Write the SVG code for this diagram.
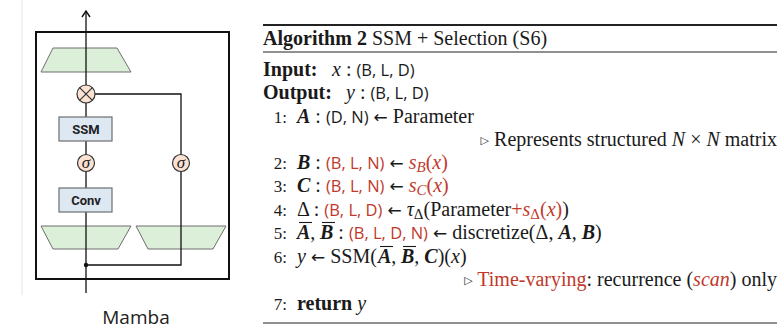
<svg xmlns="http://www.w3.org/2000/svg" width="782" height="329" viewBox="0 0 782 329">
<defs>
<style>
.ser{font-family:"Liberation Serif","DejaVu Serif",serif;font-size:20px;fill:#1a1a1a}
.sans{font-family:"Open Sans","Liberation Sans",sans-serif;font-size:16.5px}
.arw{font-family:"DejaVu Sans",sans-serif;font-size:17px}
.num{font-size:17px}
.sub{font-size:15px}
.red{fill:#c0392b}
.bi{font-weight:bold;font-style:italic}
.it{font-style:italic}
.b{font-weight:bold}
.ovl{stroke:#1a1a1a;stroke-width:1.1}
.trap{fill:#dcefd8;stroke:#6e6e6e;stroke-width:1}
.box{fill:#dde8f3;stroke:#6e6e6e;stroke-width:1.2}
.circ{fill:#fbe2d3;stroke:#333;stroke-width:1.2}
.wire{fill:none;stroke:#111;stroke-width:1.3}
.lbl{font-family:Roboto,"Liberation Sans",sans-serif;font-weight:bold;font-size:13px;fill:#222;text-anchor:middle}
.sig{font-family:"Liberation Serif",serif;font-style:italic;font-size:17px;fill:#222;text-anchor:middle}
.rule{stroke:#222}
</style>
<marker id="arr" markerWidth="12" markerHeight="12" refX="10" refY="6" orient="auto" markerUnits="userSpaceOnUse" viewBox="0 0 12 12">
<polyline points="4,2 10,6 4,10" fill="none" stroke="#111" stroke-width="1.4"/>
</marker>
</defs>
<rect width="782" height="329" fill="#fff"/>
<line x1="22" y1="0" x2="22" y2="295" stroke="#e4e4e4" stroke-width="1"/>

<!-- Mamba block -->
<g id="outer-box"><rect x="36" y="32" width="193" height="247" fill="none" stroke="#111" stroke-width="2"/></g>
<g id="proj-out"><polygon class="trap" points="53,48 117,48 131,72 41,72"/></g>
<g id="proj-in-left"><polygon class="trap" points="41,226 131,226 118,249 53,249"/></g>
<g id="proj-in-right"><polygon class="trap" points="136,226 226,226 213,249 148,249"/></g>

<g id="connectors">
<line class="wire" x1="86" y1="293" x2="86" y2="11" marker-end="url(#arr)"/>
<polyline class="wire" points="95,94 181,94 181,265 86,265"/>
<circle cx="86" cy="265" r="2.2" fill="#111"/>
</g>

<g id="multiply"><circle class="circ" cx="86" cy="94" r="9"/>
<line x1="79.6" y1="87.6" x2="92.4" y2="100.4" stroke="#333" stroke-width="1.2"/>
<line x1="92.4" y1="87.6" x2="79.6" y2="100.4" stroke="#333" stroke-width="1.2"/></g>
<g id="ssm"><rect class="box" x="59" y="117" width="53" height="24"/><text class="lbl" x="86" y="134">SSM</text></g>
<g id="sigma-left"><circle class="circ" cx="86" cy="163" r="8.5"/><text class="sig" x="86" y="167.5">σ</text></g>
<g id="sigma-right"><circle class="circ" cx="181" cy="163" r="8.5"/><text class="sig" x="181" y="167.5">σ</text></g>
<g id="conv"><rect class="box" x="59" y="188" width="53" height="24"/><text class="lbl" x="86" y="205">Conv</text></g>
<g id="caption"><text x="136" y="324" font-family="'Open Sans','Noto Sans',sans-serif" font-size="19" fill="#222" text-anchor="middle">Mamba</text></g>

<!-- Algorithm -->
<g id="algorithm">
<line class="rule" x1="263" y1="25" x2="777" y2="25" stroke-width="1.8"/>
<line class="rule" x1="263" y1="52" x2="777" y2="52" stroke-width="1"/>
<line class="rule" x1="263" y1="323" x2="777" y2="323" stroke-width="1.2"/>
<text class="ser" x="263" y="45" font-size="25"><tspan class="b">Algorithm 2</tspan> SSM + Selection (S6)</text>

<text class="ser" x="263" y="76"><tspan class="b">Input:</tspan><tspan x="332" class="it">x</tspan> : <tspan class="sans">(B, L, D)</tspan></text>
<text class="ser" x="263" y="99"><tspan class="b">Output:</tspan><tspan x="346" class="it">y</tspan> : <tspan class="sans">(B, L, D)</tspan></text>

<text class="ser num" x="287" y="123" text-anchor="end">1:</text>
<text class="ser" x="297" y="123"><tspan class="bi">A</tspan> : <tspan class="sans">(D, N)</tspan> <tspan class="arw">←</tspan> Parameter</text>
<text class="ser" x="777" y="146" text-anchor="end"><tspan font-size="11" dy="-2">▷</tspan><tspan dy="2"> Represents structured </tspan><tspan class="it">N</tspan> × <tspan class="it">N</tspan> matrix</text>

<text class="ser num" x="287" y="169" text-anchor="end">2:</text>
<text class="ser" x="297" y="169"><tspan class="bi">B</tspan> : <tspan class="sans red">(B, L, N)</tspan> <tspan class="arw">←</tspan> <tspan class="red it">s</tspan><tspan class="red it sub" dy="3">B</tspan><tspan class="red" dy="-3">(</tspan><tspan class="red it">x</tspan><tspan class="red">)</tspan></text>

<text class="ser num" x="287" y="192" text-anchor="end">3:</text>
<text class="ser" x="297" y="192"><tspan class="bi">C</tspan> : <tspan class="sans red">(B, L, N)</tspan> <tspan class="arw">←</tspan> <tspan class="red it">s</tspan><tspan class="red it sub" dy="3">C</tspan><tspan class="red" dy="-3">(</tspan><tspan class="red it">x</tspan><tspan class="red">)</tspan></text>

<text class="ser num" x="287" y="216" text-anchor="end">4:</text>
<text class="ser" x="297" y="216">Δ : <tspan class="sans red">(B, L, D)</tspan> <tspan class="arw">←</tspan> <tspan class="it">τ</tspan><tspan class="sub" dy="3">Δ</tspan><tspan dy="-3">(Parameter</tspan><tspan class="red">+</tspan><tspan class="red it">s</tspan><tspan class="red sub" dy="3">Δ</tspan><tspan class="red" dy="-3">(</tspan><tspan class="red it">x</tspan><tspan class="red">)</tspan>)</text>

<text class="ser num" x="287" y="239" text-anchor="end">5:</text>
<text class="ser" x="297" y="239"><tspan class="bi">A</tspan>, <tspan class="bi" x="320">B</tspan> : <tspan class="sans red">(B, L, D, N)</tspan> <tspan class="arw">←</tspan> discretize(Δ, <tspan class="bi">A</tspan>, <tspan class="bi">B</tspan>)</text>
<line class="ovl" x1="299" y1="222.5" x2="312" y2="222.5"/>
<line class="ovl" x1="322" y1="222.5" x2="335" y2="222.5"/>

<text class="ser num" x="287" y="263" text-anchor="end">6:</text>
<text class="ser" x="297" y="263"><tspan class="it">y</tspan> <tspan class="arw">←</tspan> SSM(<tspan class="bi" x="378">A</tspan>, <tspan class="bi" x="401">B</tspan>, <tspan class="bi">C</tspan>)(<tspan class="it">x</tspan>)</text>
<line class="ovl" x1="380" y1="246.5" x2="393" y2="246.5"/>
<line class="ovl" x1="403" y1="246.5" x2="416" y2="246.5"/>

<text class="ser" x="777" y="286" text-anchor="end"><tspan font-size="11" dy="-2">▷</tspan><tspan dy="2"> </tspan><tspan class="red">Time-varying</tspan>: recurrence (<tspan class="red it">scan</tspan>) only</text>

<text class="ser num" x="287" y="310" text-anchor="end">7:</text>
<text class="ser" x="297" y="310"><tspan class="b">return</tspan> <tspan class="it">y</tspan></text>
</g>
</svg>
